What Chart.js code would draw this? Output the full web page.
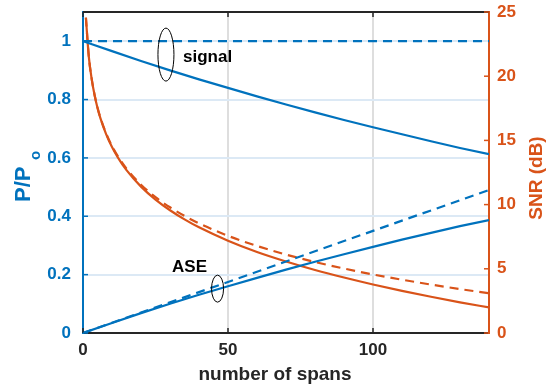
<!DOCTYPE html>
<html lang="en">
<head>
    <meta charset="UTF-8">
    <title>Signal, ASE and SNR vs number of spans</title>
    <script src="https://cdn.jsdelivr.net/npm/chart.js@4.4.1/dist/chart.umd.min.js"></script>
    <style>
        html, body { margin: 0; padding: 0; background: #fff; }
        .wrap { position: relative; width: 559px; height: 385px; }
    </style>
</head>
<body>
    <div class="wrap"><canvas id="spanChart"></canvas></div>

    <script>
        // values
        const spans = [0, 10, 20, 30, 40, 50, 60, 70, 80, 90, 100, 110, 120, 130, 140];
        const signalSolid = [1, 0.966, 0.932, 0.900, 0.869, 0.840, 0.811, 0.783, 0.756, 0.730, 0.705, 0.681, 0.657, 0.634, 0.613];
        const signalDashed = [1, 1, 1, 1, 1, 1, 1, 1, 1, 1, 1, 1, 1, 1, 1];
        const aseSolid = [0, 0.034, 0.068, 0.100, 0.131, 0.160, 0.189, 0.217, 0.244, 0.270, 0.295, 0.320, 0.343, 0.366, 0.387];
        const aseDashed = [0, 0.035, 0.070, 0.105, 0.140, 0.175, 0.210, 0.245, 0.280, 0.315, 0.350, 0.385, 0.420, 0.455, 0.490];

        const snrSpans = [1, 2, 3, 4, 5, 6, 8, 10, 12, 15, 20, 25, 30, 35, 40, 50, 60, 70, 80, 90, 100, 110, 120, 130, 140];
        const snrSolid = [24.55, 21.53, 19.77, 18.51, 17.53, 16.73, 15.47, 14.48, 13.68, 12.68, 11.40, 10.39, 9.56, 8.85, 8.23, 7.19, 6.31, 5.57, 4.91, 4.32, 3.78, 3.28, 2.82, 2.39, 1.99];
        const snrDashed = [24.56, 21.55, 19.79, 18.54, 17.57, 16.78, 15.53, 14.56, 13.77, 12.80, 11.55, 10.58, 9.79, 9.12, 8.54, 7.57, 6.78, 6.11, 5.53, 5.02, 4.56, 4.15, 3.77, 3.42, 3.10];

        const xTicks = [0, 50, 100];
        const powerTicks = [0, 0.2, 0.4, 0.6, 0.8, 1];
        const powerTickLabels = ['0', '0.2', '0.4', '0.6', '0.8', '1'];
        const snrTicks = [0, 5, 10, 15, 20, 25];

        const BLUE = '#0072BD';
        const ORANGE = '#D95319';
        const DARK = '#262626';
        const FONT = "'Liberation Sans', Arial, sans-serif";

        Chart.defaults.font.family = FONT;

        function pairs(xs, ys) {
            return xs.map((x, i) => ({ x: x, y: ys[i] }));
        }

        // fixed box for the plot: 83..489 wide, 12..333 high
        function fixVertical(width) {
            return s => {
                s.width = width;
                s.paddingTop = 12;
                s.paddingBottom = 0;
            };
        }

        // inward tick marks, top box line, axis titles and the two ellipse notes
        const decorations = {
            id: 'decorations',
            afterDatasetsDraw(chart) {
                const ctx = chart.ctx;
                const a = chart.chartArea;
                const x = chart.scales.x, y = chart.scales.y, y2 = chart.scales.y2;
                ctx.save();

                // top box line
                ctx.strokeStyle = DARK;
                ctx.lineWidth = 2;
                ctx.beginPath();
                ctx.moveTo(a.left, a.top);
                ctx.lineTo(a.right, a.top);
                ctx.stroke();

                // tick marks pointing inside
                ctx.lineWidth = 1.5;
                xTicks.forEach(v => {
                    const px = x.getPixelForValue(v);
                    ctx.beginPath();
                    ctx.moveTo(px, a.bottom); ctx.lineTo(px, a.bottom - 5);
                    ctx.moveTo(px, a.top); ctx.lineTo(px, a.top + 5);
                    ctx.stroke();
                });
                ctx.strokeStyle = BLUE;
                powerTicks.forEach(v => {
                    const py = y.getPixelForValue(v);
                    ctx.beginPath();
                    ctx.moveTo(a.left, py); ctx.lineTo(a.left + 5, py);
                    ctx.stroke();
                });
                ctx.strokeStyle = ORANGE;
                snrTicks.forEach(v => {
                    const py = y2.getPixelForValue(v);
                    ctx.beginPath();
                    ctx.moveTo(a.right, py); ctx.lineTo(a.right - 5, py);
                    ctx.stroke();
                });

                // ellipses around the signal and ASE curves
                ctx.strokeStyle = '#000';
                ctx.lineWidth = 1;
                ctx.beginPath();
                ctx.ellipse(x.getPixelForValue(28.6), y.getPixelForValue(0.954), 8, 26.5, 0, 0, Math.PI * 2);
                ctx.stroke();
                ctx.beginPath();
                ctx.ellipse(x.getPixelForValue(46.4), y.getPixelForValue(0.152), 6, 13.5, 0, 0, Math.PI * 2);
                ctx.stroke();

                ctx.fillStyle = '#000';
                ctx.font = 'bold 17px ' + FONT;
                ctx.textBaseline = 'middle';
                ctx.textAlign = 'left';
                ctx.fillText('signal', x.getPixelForValue(34.5), y.getPixelForValue(0.945));
                ctx.fillText('ASE', x.getPixelForValue(30.7), y.getPixelForValue(0.226));

                // x axis title
                ctx.fillStyle = DARK;
                ctx.font = 'bold 19px ' + FONT;
                ctx.textAlign = 'center';
                ctx.textBaseline = 'alphabetic';
                ctx.fillText('number of spans', 275, 380);

                // left axis title P/P with subscript o
                ctx.fillStyle = BLUE;
                ctx.save();
                ctx.translate(30, 202);
                ctx.rotate(-Math.PI / 2);
                ctx.textAlign = 'left';
                ctx.font = 'bold 22px ' + FONT;
                ctx.fillText('P/P', 0, 0);
                ctx.font = 'bold 15px ' + FONT;
                ctx.fillText('o', 42, 10);
                ctx.restore();

                // right axis title
                ctx.fillStyle = ORANGE;
                ctx.save();
                ctx.translate(542, 178);
                ctx.rotate(-Math.PI / 2);
                ctx.textAlign = 'center';
                ctx.font = 'bold 19px ' + FONT;
                ctx.fillText('SNR (dB)', 0, 0);
                ctx.restore();

                ctx.restore();
            }
        };

        document.addEventListener('DOMContentLoaded', function() {
            const ctx = document.getElementById('spanChart').getContext('2d');

            new Chart(ctx, {
                type: 'line',
                data: {
                    datasets: [
                        {
                            label: 'signal',
                            data: pairs(spans, signalSolid),
                            yAxisID: 'y',
                            borderColor: BLUE,
                            borderWidth: 2.2
                        },
                        {
                            label: 'signal (dashed)',
                            data: pairs(spans, signalDashed),
                            yAxisID: 'y',
                            borderColor: BLUE,
                            borderWidth: 2.2,
                            borderDash: [9, 6]
                        },
                        {
                            label: 'ASE',
                            data: pairs(spans, aseSolid),
                            yAxisID: 'y',
                            borderColor: BLUE,
                            borderWidth: 2.2
                        },
                        {
                            label: 'ASE (dashed)',
                            data: pairs(spans, aseDashed),
                            yAxisID: 'y',
                            borderColor: BLUE,
                            borderWidth: 2.2,
                            borderDash: [9, 6]
                        },
                        {
                            label: 'SNR',
                            data: pairs(snrSpans, snrSolid),
                            yAxisID: 'y2',
                            borderColor: ORANGE,
                            borderWidth: 2.2,
                            cubicInterpolationMode: 'monotone'
                        },
                        {
                            label: 'SNR (dashed)',
                            data: pairs(snrSpans, snrDashed),
                            yAxisID: 'y2',
                            borderColor: ORANGE,
                            borderWidth: 2.2,
                            borderDash: [9, 6],
                            cubicInterpolationMode: 'monotone'
                        }
                    ]
                },
                options: {
                    responsive: true,
                    maintainAspectRatio: false,
                    animation: false,
                    layout: { padding: 0 },
                    elements: { point: { radius: 0 }, line: { tension: 0, fill: false } },
                    plugins: {
                        legend: { display: false },
                        tooltip: { enabled: false }
                    },
                    scales: {
                        x: {
                            type: 'linear',
                            min: 0,
                            max: 140,
                            afterBuildTicks: s => { s.ticks = xTicks.map(v => ({ value: v })); },
                            afterFit: s => { s.height = 52; s.paddingLeft = 0; s.paddingRight = 0; },
                            grid: {
                                color: c => c.tick && c.tick.value === 0 ? 'rgba(0,0,0,0)' : '#dedede',
                                lineWidth: 2,
                                drawTicks: false
                            },
                            border: { color: DARK, width: 2 },
                            ticks: {
                                color: DARK,
                                padding: 7,
                                maxRotation: 0,
                                font: { size: 17, weight: 'bold' }
                            }
                        },
                        y: {
                            position: 'left',
                            min: 0,
                            max: 1.1,
                            afterBuildTicks: s => { s.ticks = powerTicks.map(v => ({ value: v })); },
                            afterFit: fixVertical(83),
                            grid: {
                                color: c => c.tick && c.tick.value === 0 ? 'rgba(0,0,0,0)' : '#dce9f5',
                                lineWidth: 2,
                                drawTicks: false
                            },
                            border: { color: BLUE, width: 2 },
                            ticks: {
                                color: BLUE,
                                padding: 12,
                                font: { size: 17, weight: 'bold' },
                                callback: (v, i) => powerTickLabels[i]
                            }
                        },
                        y2: {
                            position: 'right',
                            min: 0,
                            max: 25,
                            afterBuildTicks: s => { s.ticks = snrTicks.map(v => ({ value: v })); },
                            afterFit: fixVertical(70),
                            grid: { drawOnChartArea: false, drawTicks: false },
                            border: { color: ORANGE, width: 2 },
                            ticks: {
                                color: ORANGE,
                                padding: 8,
                                font: { size: 17, weight: 'bold' }
                            }
                        }
                    }
                },
                plugins: [decorations]
            });
        });
    </script>
</body>
</html>
